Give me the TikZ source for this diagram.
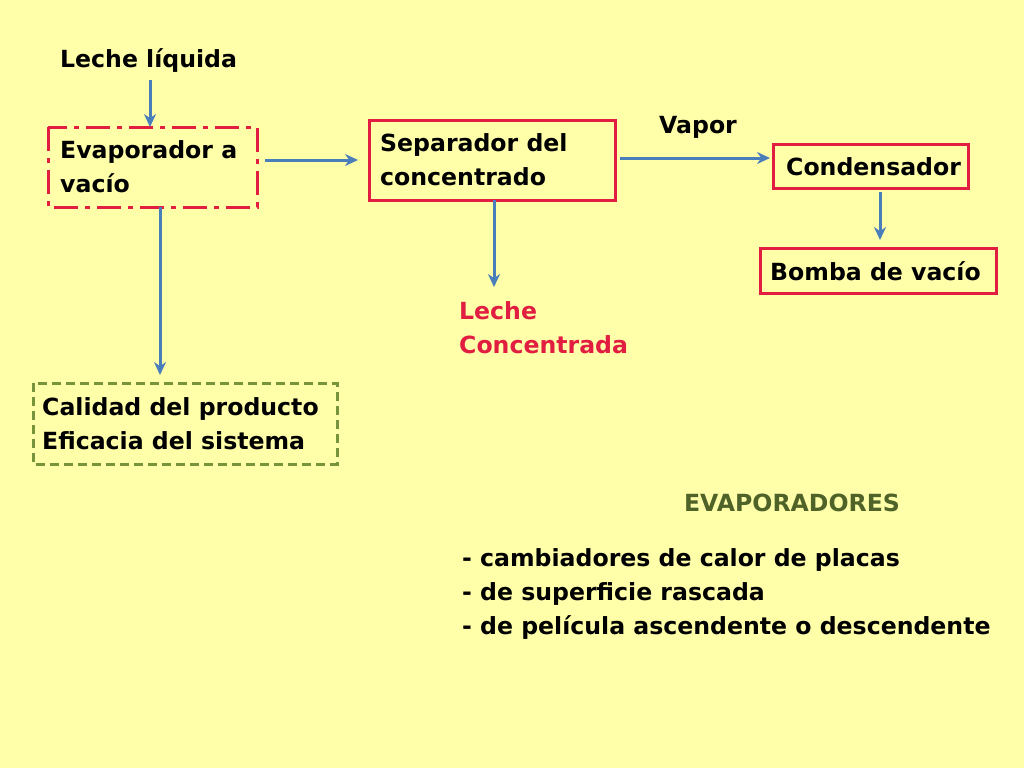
\documentclass[tikz,border=0pt]{standalone}
\usepackage{fontspec}
\setmainfont{DejaVu Sans}
\usetikzlibrary{arrows.meta}
\definecolor{bg}{RGB}{255,255,170}
\definecolor{ar}{RGB}{74,126,187}
\definecolor{rd}{RGB}{225,30,65}
\definecolor{gr}{RGB}{119,147,60}
\definecolor{ol}{RGB}{79,98,40}
\tikzset{x=1pt,y=-1pt,
 lbl/.style={anchor=west,font=\fontsize{23.6}{34}\selectfont\bfseries,inner sep=0,align=left},
 conn/.style={draw=ar,line width=3pt,-{Stealth[length=13pt,width=12pt]}},
 rbox/.style={draw=rd,line width=3pt}}
\begin{document}
\begin{tikzpicture}
\fill[bg] (0,0) rectangle (1024,768);
\useasboundingbox (0,0) rectangle (1024,768);
\node[lbl] (lq) at (60,61) {Leche líquida};
\draw[rbox,dash pattern=on 24pt off 7pt on 5pt off 7pt] (48,127) rectangle (257,207);
\node[lbl] (ev) at (60,167) {Evaporador a\\vacío};
\coordinate (evt) at (150,127);
\coordinate (evr) at (265,160);
\coordinate (evb) at (160,207);
\draw[rbox] (369,120) rectangle (615,200);
\node[lbl] (sep) at (380,160) {Separador del\\concentrado};
\draw[rbox] (773,144) rectangle (968,188);
\node[lbl] (con) at (786,167) {Condensador};
\draw[rbox] (760,248) rectangle (996,293);
\node[lbl] (bom) at (770,271) {Bomba de vacío};
\node[lbl] (vap) at (659,127) {Vapor};
\node[lbl,text=rd] (lc) at (459,328) {Leche\\Concentrada};
\draw[gr,line width=3pt,dash pattern=on 9pt off 5pt] (33,383) rectangle (337,464);
\node[lbl] (cal) at (42,424) {Calidad del producto\\Eficacia del sistema};
\node[lbl,anchor=center,text=ol] (evs) at (792,503) {EVAPORADORES};
\node[lbl] (lst) at (462,594) {- cambiadores de calor de placas\\- de superficie rascada\\- de película ascendente o descendente};
\coordinate (a1) at (150,80);
\draw[conn] (a1) -- (evt);
\coordinate (a2) at (358,160);
\draw[conn] (evr) -- (a2);
\coordinate (a3) at (620,158); \coordinate (a4) at (770,158);
\draw[conn] (a3) -- (a4);
\coordinate (a5) at (880,192); \coordinate (a6) at (880,240);
\draw[conn] (a5) -- (a6);
\coordinate (a7) at (494,200); \coordinate (a8) at (494,287);
\draw[conn] (a7) -- (a8);
\coordinate (a9) at (160,375);
\draw[conn] (evb) -- (a9);
\end{tikzpicture}
\end{document}
